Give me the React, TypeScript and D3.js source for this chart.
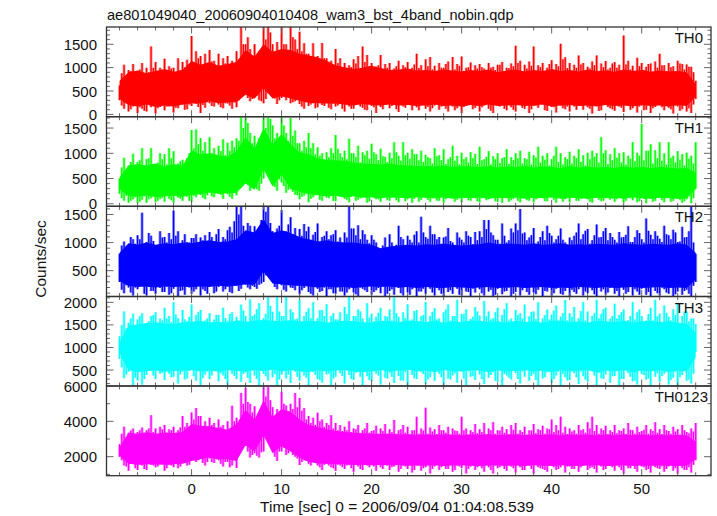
import React from "react";
import * as d3 from "d3";

const TITLE = "ae801049040_20060904010408_wam3_bst_4band_nobin.qdp";
const X_LABEL = "Time [sec] 0 = 2006/09/04 01:04:08.539";
const Y_LABEL = "Counts/sec";
const X_TICKS = [0, 10, 20, 30, 40, 50];
const PANEL_NAMES = ["TH0", "TH1", "TH2", "TH3", "TH0123"];
const PANEL_COLORS = ["#ff0000", "#00ff00", "#0000ff", "#00ffff", "#ff00ff"];
const Y_DOMAINS = [[-50, 1870], [-50, 1725], [40, 1646], [146, 2130], [925, 6000]];
const Y_LABELS = [[0, 500, 1000, 1500], [0, 500, 1000, 1500], [500, 1000, 1500], [500, 1000, 1500, 2000], [2000, 4000, 6000]];
const Y_MINOR = [100, 100, 100, 100, 1000];
const Y_MAJOR = [500, 500, 500, 500, 2000];

// spikes sampled every 0.5 s from -8 to 56
const TH0_HI = [620,1060,950,1080,900,1100,1000,1450,1120,1000, 1190,1030,1000,1200,1120,1170,1680,1350,1250,1300, 1380,1150,1300,1200,1250,1150,1350,1900,1500,1400, 1500,1350,1900,1900,1500,1550,1900,1500,1900,1600, 1770,1520,1300,1520,1250,1530,1200,1150,1400,1200, 1100,1050,1180,1250,1450,1270,1100,1020,1270,1080, 1100,980,1150,1050,1120,1000,1300,1050,1180,1230, 1040,1100,1000,1130,1230,1080,1240,1000,1110,1050, 1080,980,1100,1020,1060,1120,1000,1090,1470,1150, 1060,1130,1450,1050,1100,1000,1160,1080,1510,1220, 1100,1060,1260,1100,1020,1130,1260,1090,1140,1000, 1120,1060,1690,1150,1040,1210,1100,1020,1090,1130, 1300,1050,1100,1030,1150,1080,1070,1020,720];
const TH0_LO = [300,120,60,170,30,120,60,150,20,160, 90,170,40,130,210,110,180,220,30,140, 240,170,210,130,230,120,150,380,430,280, 360,300,240,450,500,220,350,300,240,280, 220,120,180,240,150,200,260,110,170,230, 60,170,120,230,140,90,180,30,160,220, 130,200,50,170,230,90,150,210,120,60, 190,100,220,60,170,130,30,180,240,140, 60,190,120,30,180,210,90,150,60,200, 120,30,180,140,210,70,160,40,190,110, 60,170,210,100,150,20,180,90,210,130, 80,170,50,200,130,40,190,100,30,160, 210,90,140,20,170,110,60,30,330];
const TH1_HI = [500,910,760,990,830,1100,880,1100,780,1000, 980,1100,1040,800,870,900,1460,1470,1300,1220, 1320,1100,1150,1280,1210,1250,1300,1750,1750,1400, 1350,1300,1750,1750,1550,1400,1750,1400,1700,1450, 1200,1250,1400,1200,1120,1000,1020,1100,1360,1000, 1050,1290,1000,1150,1020,1050,1190,980,1090,930, 1010,1220,950,1220,1010,1080,980,1050,970,900, 1100,960,1080,880,1150,950,1010,920,1020,990, 1130,880,1040,940,1000,900,1080,920,1000,1050, 900,1030,960,1130,950,1000,880,1130,1000,920, 1030,950,1080,960,1010,1050,1000,1320,1060,980, 1100,1000,1020,950,1220,1010,1580,1050,1180,1060, 1220,1000,1220,950,1040,980,1010,950,1220];
const TH1_LO = [200,60,20,90,10,80,20,110,30,90, 40,100,20,120,60,140,40,130,180,90, 220,130,200,100,190,100,170,380,420,260, 330,260,500,620,500,260,420,220,290,180, 90,160,30,130,190,60,120,170,50,140, 100,30,160,80,140,20,170,90,40,150, 60,130,30,170,90,20,150,80,120,40, 150,60,20,120,170,80,30,140,60,110, 30,130,90,160,40,20,150,70,120,30, 140,60,30,110,170,50,120,20,150,90, 30,140,60,170,90,20,130,50,160,80, 40,120,20,150,70,30,130,10,100,60, 130,30,150,60,100,20,90,10,300];
const TH2_HI = [800,1020,900,1060,1130,1530,1010,1120,950,1200, 1100,1170,1570,1200,1040,1010,1080,1150,1090,1130, 1190,1030,1240,1100,1220,1180,1640,1640,1150,1300, 1290,1150,1640,1640,1200,1250,1580,1200,1450,1260, 1240,1330,1280,1140,1340,1100,1200,1130,1220,1090, 1180,1640,1250,1310,1220,1050,1130,1000,860,1090, 1150,900,1300,1060,1120,1000,1200,1460,1100,1300, 1150,1100,1090,1260,1000,1180,1050,1200,1100,1190, 1200,1400,1400,1130,1050,1340,1000,1250,1340,1600, 1180,1090,1260,1020,1200,1300,1120,1060,1250,1000, 1090,1120,1340,1150,1240,1040,1320,1100,1260,1170, 1050,1190,1100,1290,1010,1220,1060,1430,1140,1200, 1070,1300,1130,1230,1010,1280,1100,1640,800];
const TH2_LO = [300,100,200,60,170,230,60,140,90,190, 120,70,180,50,150,210,90,170,60,140, 240,100,210,130,220,100,240,180,250,170, 210,250,300,660,360,170,240,130,200,150, 80,190,120,60,180,140,50,170,90,130, 60,170,110,40,180,120,70,150,100,50, 140,70,190,60,110,170,50,130,80,180, 60,150,40,120,90,180,60,130,50,110, 170,60,130,50,180,80,140,40,120,60, 190,70,110,160,50,130,60,180,90,140, 50,120,170,60,100,150,40,130,70,190, 90,50,160,120,60,130,180,70,50,140, 60,170,90,50,130,70,160,40,300];
const TH3_HI = [1250,1800,1550,1750,1620,1760,1520,1700,1780,1640, 1880,1700,2000,1650,1830,1580,1950,1720,1830,1600, 1760,1620,1720,1880,1590,1780,1680,1950,1700,2070, 1730,1980,1650,2130,1790,2130,1700,2130,1850,1620, 2050,1700,1870,2000,1650,1830,1960,1700,1620,1780, 1900,2130,1700,1850,1640,1980,1750,1680,1880,1700, 1840,2120,1680,1780,1960,1620,1830,1690,2010,1700, 1870,1640,1780,1950,1700,2060,1740,1850,1630,1900, 1710,2030,1800,1650,1880,1720,1980,1640,1830,1760, 1950,1690,1800,2000,1640,1840,1730,1930,1680,2050, 1760,1900,1650,2000,1800,1700,2060,1750,1880,1640, 1970,1720,1840,1610,2000,1780,1700,1600,1880,2060, 1750,1930,1680,1850,1990,1700,1800,1640,1520];
const TH3_LO = [750,320,460,170,270,180,390,480,300,420, 280,420,350,200,460,310,520,260,170,400, 300,480,250,380,160,420,300,240,450,210, 380,150,420,270,340,170,400,310,210,460, 260,380,170,450,300,220,400,160,350,430, 200,390,280,470,160,360,250,420,180,330, 440,210,370,270,160,390,300,450,190,340, 260,420,160,310,380,220,470,170,350,280, 400,190,330,450,240,150,380,290,430,200, 350,260,420,170,310,450,210,380,150,340, 280,430,190,360,240,470,170,320,400,220, 370,160,300,430,250,180,410,290,150,350, 240,420,180,330,150,390,260,200,900];
const TH4_HI = [2700,3700,3350,3600,3400,3650,3500,4350,3600,3700, 3800,3550,3700,3500,4300,3900,4500,4760,4300,4000, 4200,3900,4100,3800,4000,4880,4200,5600,5900,5000, 4850,4500,6100,6100,4800,4700,5680,4900,5000,5600, 5320,4760,4300,4200,4480,4100,3900,4350,3900,3800, 3700,4000,3600,3800,3500,3900,3450,3750,3600,3850, 3550,4080,3500,3800,3700,3500,4260,3600,4770,3650, 3550,3800,3500,3700,3600,3450,4260,3600,3500,3850, 3550,3900,3600,3950,3500,3700,3550,3800,3900,3500, 3700,3500,3850,3550,3750,3600,4100,3800,4260,3700, 3600,3500,3800,3550,3950,4260,3800,3600,3750,3500, 3800,3500,3600,3900,3500,3700,3450,3800,3550,3950, 3550,3800,3450,3700,3550,3800,3400,3600,3900];
const TH4_LO = [2000,1500,1200,1650,1250,1500,1250,1550,1400,1700, 1200,1550,1400,1350,1700,1500,1800,1700,2000,1500, 1900,1650,1800,1450,1700,1500,1360,2500,2600,1950, 2200,1950,2300,3060,2400,1750,2300,2100,2400,2000, 1530,1800,1600,1850,1500,1250,1600,1400,1200,1500, 1300,1550,1150,1450,1250,1500,1600,1200,1400,1550, 1250,1450,1150,1500,1300,1100,1500,1200,1400,1050, 1450,1250,1550,1300,1150,1500,1350,1050,1450,1250, 1500,1150,1400,1050,1350,1500,1200,1450,1100,1400, 1250,1500,1050,1400,1300,1150,1500,1250,1400,1100, 1450,1300,1150,1500,1250,1400,1100,1450,1300,1500, 1200,1400,1050,1350,1500,1150,1450,1250,1100,1400, 1300,1150,1450,1200,1050,1350,1250,1100,1800];

// in-between spikes, every 0.5 s from -7.75 to 55.75
const TH0_MID_HI = [880,800,930,870,960,820,900,1000,860,930, 850,980,900,950,1010,880,1120,1200,1050,980, 1130,1050,1000,1090,1040,1010,1180,1500,1650,1230, 1180,1250,1600,1750,1300,1280,1500,1350,1650,1400, 1350,1300,1250,1180,1160,1200,1050,1040,1100,1000, 980,1010,1090,950,1120,1030,900,1050,930,1000, 950,1030,880,1010,940,1070,990,900,1030,960, 920,1000,1080,890,960,1040,930,1010,870,980, 1010,900,1000,950,1060,880,990,1030,1100,910, 980,1040,920,1010,870,1080,950,1030,1180,990, 900,1000,1070,930,980,1050,890,1010,960,1090, 1000,920,1070,960,880,1030,950,1080,910,1000, 1050,930,1010,880,1090,960,1020,900];
const TH0_MID_LO = [190,240,110,220,150,80,200,250,130,210, 170,230,140,250,100,210,240,160,200,260, 180,270,150,240,190,260,300,420,350,330, 400,280,330,520,340,300,380,420,260,310, 170,260,210,130,250,180,140,230,190,120, 210,120,240,170,100,230,150,200,110,250, 180,110,240,140,200,250,90,220,160,130, 230,170,120,250,90,210,160,240,110,190, 150,240,80,210,170,120,250,100,220,140, 240,110,190,230,90,200,150,250,130,170, 220,100,180,240,120,210,70,230,160,110, 200,140,240,100,220,170,90,240,130,210, 150,230,110,190,80,240,130,210];
const TH1_MID_HI = [720,640,830,700,860,760,900,680,820,880, 780,900,710,840,750,1000,1100,1180,1050,950, 1000,920,1040,960,1050,1120,1250,1500,1600,1200, 1150,1080,1500,1680,1300,1150,1550,1250,1350,1200, 1050,1120,1100,980,950,880,920,1000,1090,920, 880,1000,930,820,960,890,1020,860,940,830, 900,1020,850,960,890,980,860,830,920,800, 940,860,790,920,850,780,880,820,900,790, 860,930,780,880,810,920,790,860,900,800, 880,780,910,820,870,760,950,830,780,880, 800,900,830,760,880,930,820,1000,790,860, 910,820,780,890,840,950,860,1050,800,900, 850,780,910,820,870,760,890,800];
const TH1_MID_LO = [110,160,60,130,40,150,90,170,60,120, 150,70,170,100,190,60,160,200,120,170, 150,210,180,230,140,220,300,450,380,350, 290,400,650,560,330,480,350,280,240,170, 140,200,100,170,80,150,110,60,170,130, 80,140,60,110,170,50,120,90,160,70, 120,70,150,50,130,100,40,160,80,110, 60,130,90,150,40,110,160,70,120,50, 110,70,140,50,120,160,40,100,60,130, 70,150,90,120,50,140,80,160,40,110, 130,60,100,150,40,120,80,60,140,100, 90,150,60,110,140,50,100,160,40,120, 70,120,40,140,80,50,150,110];
const TH2_MID_HI = [950,870,1100,980,1060,900,1170,1030,880,1090, 1000,1060,1120,950,1150,1000,1080,920,1040,980, 1100,1150,1000,1060,1280,1380,1500,1300,1350,1180, 1100,1400,1550,1350,1100,1300,1200,1320,1150,1080, 1120,1200,1050,1190,1000,1120,1060,1150,1020,1000, 1090,1250,1130,1060,1150,990,1050,900,950,880, 1000,960,1100,920,1050,1140,1000,1180,1070,1150, 1060,980,1110,1030,940,1090,1000,1120,970,1040, 1100,1240,1180,1050,980,1120,1040,1180,1220,1160, 1040,1130,950,1100,1040,1170,1000,1120,1050,960, 1040,1180,1060,1210,980,1130,1090,1200,1040,1100, 1000,1090,1140,1010,1100,1170,1000,1210,1060,1120, 1010,1150,1060,1180,1020,1090,1200,1000];
const TH2_MID_LO = [160,240,110,200,260,90,210,140,240,120, 220,100,250,140,70,200,130,240,170,90, 230,130,260,170,120,230,140,260,200,230, 180,270,420,420,210,280,160,240,190,230, 150,230,90,250,120,200,170,100,240,130, 110,240,80,200,150,260,120,190,230,90, 170,250,100,210,70,230,130,180,240,110, 190,90,240,150,210,70,230,120,180,250, 100,220,160,70,240,130,200,90,230,150, 120,240,80,210,140,250,100,190,70,220, 160,90,240,130,210,80,230,170,110,250, 140,210,90,240,170,70,220,120,250,100, 200,110,240,80,210,140,90,230];
const TH3_MID_HI = [1500,1420,1640,1500,1690,1450,1580,1720,1500,1600, 1640,1560,1730,1490,1620,1680,1520,1780,1480,1640, 1560,1720,1500,1650,1740,1480,1600,1820,1530,1700, 1850,1600,1750,1920,1580,1800,1700,1560,1780,1640, 1570,1790,1650,1500,1830,1700,1540,1760,1620,1500, 1740,1580,1690,1800,1500,1660,1580,1770,1520,1680, 1600,1760,1540,1650,1480,1810,1580,1720,1500,1790, 1620,1520,1840,1590,1700,1490,1750,1560,1680,1800, 1520,1700,1620,1780,1540,1850,1600,1490,1720,1640, 1560,1790,1630,1500,1720,1620,1820,1550,1760,1600, 1680,1500,1810,1600,1530,1760,1650,1850,1570,1700, 1640,1780,1520,1700,1620,1840,1500,1740,1600,1690, 1530,1770,1600,1720,1490,1800,1580,1640];
const TH3_MID_LO = [560,400,530,330,470,300,510,380,560,440, 500,340,530,400,290,480,360,520,320,470, 380,540,430,300,500,370,540,410,330,490, 300,480,360,520,410,290,490,400,540,350, 460,330,510,390,280,500,420,310,530,370, 510,300,440,350,520,280,470,380,540,310, 350,500,270,450,530,320,480,410,290,520, 490,340,530,290,430,510,310,470,360,540, 300,520,390,260,480,410,330,540,300,470, 510,370,280,490,340,540,300,460,410,270, 520,340,470,290,530,380,440,300,510,360, 480,300,540,350,270,500,390,310,520,430, 370,500,280,460,340,530,290,420];
const TH4_MID_HI = [3300,3100,3480,3250,3500,3300,3600,3400,3250,3550, 3300,3500,3200,3650,3700,3550,4100,4300,3700,3600, 3800,3500,3700,3400,3600,4000,3900,5000,5100,4500, 4300,4400,5400,5200,4300,4500,5000,4300,4700,4800, 4600,4100,3900,3800,4000,3700,3800,3600,3500,3450, 3500,3400,3550,3300,3600,3350,3500,3300,3450,3300, 3400,3300,3550,3350,3250,3500,3300,3480,3300,3420, 3280,3500,3350,3250,3480,3300,3500,3250,3400,3320, 3400,3250,3500,3300,3480,3350,3250,3520,3300,3400, 3250,3480,3320,3500,3300,3550,3400,3500,3350,3280, 3420,3300,3500,3350,3600,3450,3300,3500,3280,3400, 3330,3450,3280,3520,3300,3400,3520,3300,3450,3350, 3280,3500,3300,3420,3250,3500,3330,3420];
const TH4_MID_LO = [1800,1450,1600,1350,1550,1300,1650,1500,1450,1600, 1350,1500,1600,1450,1650,1550,1900,1800,1650,1700, 1700,1850,1600,1700,1400,1800,2200,2700,2300,2100, 2050,2250,3000,2700,2000,2300,2500,2200,2100,1900, 1700,1750,1500,1650,1400,1550,1500,1350,1550,1400, 1500,1350,1600,1300,1550,1400,1450,1550,1300,1500, 1400,1550,1300,1450,1600,1250,1500,1350,1550,1300, 1550,1400,1300,1600,1250,1450,1550,1300,1600,1400, 1350,1550,1250,1500,1400,1300,1600,1350,1550,1250, 1500,1300,1600,1350,1250,1550,1400,1300,1600,1450, 1300,1550,1400,1600,1350,1300,1600,1250,1500,1400, 1550,1250,1500,1350,1300,1600,1400,1300,1550,1350, 1450,1300,1600,1350,1500,1250,1400,1550];

// dense band sampled every 1 s from -8 to 56
const TH0_BAND_HI = [720,900,940,880,930,970,910,950, 1140,1060,1120,1040,1080,1120,1380,1240,1500,1340, 1400,1380,1300,1260,1220,1150, 1050,1010,970,1000,1040,990,950,960,980,940, 950,930,960,940,920,950,930,960,900,940, 960,920,950,930,970,930,950,920,960,930, 940,910,960,930,950,910,940,920,930,900,650];
const TH0_BAND_LO = [330,200,170,210,160,190,170,210, 240,230,280,240,260,260,420,340,560,340, 390,340,290,250,240,230, 230,210,190,220,200,190,210,190,200,180, 190,210,180,190,170,200,180,210,180,190, 200,180,190,210,170,190,200,180,190,170, 200,180,190,170,200,180,190,170,200,180,380];
const TH1_BAND_HI = [520,760,790,760,800,740,790,760, 1050,980,1000,960,930,1040,1320,1100,1500,1180, 1380,1180,1020,980,900,860, 860,850,820,800,790,780,800,770,760,750, 750,740,760,730,750,740,730,750,720,740, 730,750,720,740,730,710,750,720,740,720, 730,710,740,720,730,710,730,720,700,710,620];
const TH1_BAND_LO = [290,160,140,170,130,150,160,140, 180,190,230,200,210,220,400,280,680,340, 580,300,240,200,170,150, 160,130,150,120,130,110,130,120,110,130, 120,110,130,100,120,110,130,100,120,110, 130,100,120,110,130,100,120,110,100,120, 110,120,100,130,110,100,120,110,100,110,290];
const TH2_BAND_HI = [820,990,960,1000,960,990,970,1000, 990,1020,1040,1010,1020,1060,1220,1180,1420,1170, 1220,1170,1100,1060,1020,1040, 1010,1000,1000,980,960,900,930,950,960,950, 970,960,980,960,950,960,970,1000,970,980, 980,960,990,960,970,990,960,970,960,980, 970,960,990,970,960,980,970,960,990,960,820];
const TH2_BAND_LO = [310,230,210,220,200,220,210,220, 210,220,210,230,220,230,260,250,480,270, 260,240,230,220,200,220, 200,210,190,210,220,210,220,200,210,190, 210,200,190,210,200,190,200,210,190,200, 210,190,200,210,190,200,190,210,200,190, 210,190,200,210,190,200,210,190,200,190,340];
const TH3_BAND_HI = [1120,1480,1510,1540,1560,1530,1520,1560, 1570,1590,1550,1570,1550,1600,1570,1590,1610,1590, 1580,1610,1570,1590,1580,1550, 1570,1590,1580,1560,1550,1590,1580,1560,1600,1580, 1560,1590,1550,1580,1560,1600,1590,1560,1580,1550, 1590,1560,1580,1550,1590,1600,1560,1580,1550,1590, 1580,1560,1600,1550,1580,1590,1560,1580,1550,1530,1320];
const TH3_BAND_LO = [880,500,450,480,490,460,480,490, 500,470,490,460,500,480,470,500,480,510, 470,500,480,450,500,470, 490,500,470,450,480,500,470,490,510,470, 490,450,500,480,470,500,490,450,500,470, 480,500,470,490,450,500,470,490,500,450, 490,470,500,450,490,470,500,450,490,470,780];
const TH4_BAND_HI = [2550,3350,3300,3380,3300,3370,3340,3400, 3850,3750,3720,3620,3520,3850,4650,4100,5200,4250, 4700,4550,4100,3800,3680,3550, 3450,3400,3350,3320,3300,3280,3300,3250,3270,3240, 3260,3230,3270,3240,3220,3260,3240,3270,3210,3250, 3270,3210,3260,3230,3270,3210,3250,3230,3260,3220, 3250,3210,3260,3220,3250,3210,3240,3220,3230,3210,2850];
const TH4_BAND_LO = [2050,1600,1550,1570,1560,1540,1570,1600, 1750,1850,1950,1850,1850,1750,2650,2300,3200,2200, 2600,2300,1950,1720,1620,1600, 1580,1570,1530,1540,1520,1530,1510,1530,1490,1500, 1490,1510,1480,1500,1520,1490,1480,1500,1510,1480, 1500,1480,1510,1490,1480,1510,1490,1480,1500,1510, 1480,1490,1510,1480,1500,1480,1510,1490,1480,1490,1850];

const SPIKES_HI = [TH0_HI, TH1_HI, TH2_HI, TH3_HI, TH4_HI];
const SPIKES_LO = [TH0_LO, TH1_LO, TH2_LO, TH3_LO, TH4_LO];
const MIDS_HI = [TH0_MID_HI, TH1_MID_HI, TH2_MID_HI, TH3_MID_HI, TH4_MID_HI];
const MIDS_LO = [TH0_MID_LO, TH1_MID_LO, TH2_MID_LO, TH3_MID_LO, TH4_MID_LO];
const BANDS_HI = [TH0_BAND_HI, TH1_BAND_HI, TH2_BAND_HI, TH3_BAND_HI, TH4_BAND_HI];
const BANDS_LO = [TH0_BAND_LO, TH1_BAND_LO, TH2_BAND_LO, TH3_BAND_LO, TH4_BAND_LO];

const W = 717, H = 516;
const LEFT = 106.5, RIGHT = 711;
const PANEL_EDGES = [27, 116.7, 206.3, 296.5, 386, 475.7];
const FONT = "'Liberation Sans', Arial, sans-serif";
const AXIS = "#333";
const TICK = "#666";

const x = d3.scaleLinear().domain([-9.45, 57.7]).range([LEFT, RIGHT]);

function range(a: number, b: number, s: number) {
  return d3.range(Math.ceil(a / s) * s, b + 1e-6, s);
}

function Panel({ i }: { i: number }) {
  const top = PANEL_EDGES[i], bottom = PANEL_EDGES[i + 1];
  const y = d3.scaleLinear().domain(Y_DOMAINS[i]).range([bottom, top]);
  const color = PANEL_COLORS[i];
  const rules = (hi: number[], lo: number[], t0: number) => hi.map((h, k) => {
    const px = x(t0 + k * 0.5);
    return `M${px},${y(lo[k])}L${px},${y(h)}`;
  }).join("");
  const spikes = rules(SPIKES_HI[i], SPIKES_LO[i], -8) + rules(MIDS_HI[i], MIDS_LO[i], -7.75);
  const band = d3.area<number>()
    .x((_, k) => x(-8 + k))
    .y0((_, k) => y(BANDS_LO[i][k]))
    .y1((d) => y(d))(BANDS_HI[i]) || "";
  const [d0, d1] = Y_DOMAINS[i];
  const minors = range(d0, d1, Y_MINOR[i]);
  const majors = range(d0, d1, Y_MAJOR[i]);
  const xMinor = range(-8, 57, 2);
  const tickPaths: string[] = [];
  for (const v of minors) {
    const py = y(v), m = majors.includes(v) ? 7 : 3.5;
    tickPaths.push(`M${LEFT},${py}h${m}M${RIGHT},${py}h${-m}`);
  }
  for (const t of xMinor) {
    const px = x(t), m = t % 10 === 0 ? 6.5 : 3.5;
    tickPaths.push(`M${px},${top}v${m}M${px},${bottom}v${-m}`);
  }
  return (
    <g>
      <clipPath id={`clip${i}`}>
        <rect x={LEFT} y={top} width={RIGHT - LEFT} height={bottom - top} />
      </clipPath>
      <g clipPath={`url(#clip${i})`}>
        <path d={spikes} stroke={color} strokeWidth={3} strokeOpacity={0.4} fill="none" />
        <path d={spikes} stroke={color} strokeWidth={1.3} fill="none" />
        <path d={band} fill={color} />
      </g>
      <path d={tickPaths.join("")} stroke={TICK} strokeWidth={1} fill="none" />
      <rect x={LEFT} y={top} width={RIGHT - LEFT} height={bottom - top} fill="none" stroke={AXIS} strokeWidth={1.3} />
      {Y_LABELS[i].map((v) => (
        <text key={v} x={97} y={y(v) + 5.5} textAnchor="end" fontFamily={FONT} fontSize={15} fill="#111">{v}</text>
      ))}
      <text x={i === 4 ? 708 : 703} y={top + 16} textAnchor="end" fontFamily={FONT} fontSize={15} fill="#111">{PANEL_NAMES[i]}</text>
    </g>
  );
}

export default function App() {
  return (
    <svg width={W} height={H} style={{ position: "absolute", left: 0, top: 0, background: "#fff" }}>
      <text x={107} y={20} fontFamily={FONT} fontSize={14.6} fill="#111">{TITLE}</text>
      {PANEL_NAMES.map((_, i) => <Panel key={i} i={i} />)}
      {X_TICKS.map((t) => (
        <text key={t} x={x(t)} y={494} textAnchor="middle" fontFamily={FONT} fontSize={15} fill="#111">{t}</text>
      ))}
      <text x={397} y={512} textAnchor="middle" fontFamily={FONT} fontSize={15.5} fill="#111">{X_LABEL}</text>
      <text transform="translate(46,259) rotate(-90)" textAnchor="middle" fontFamily={FONT} fontSize={15.5} fill="#111">{Y_LABEL}</text>
    </svg>
  );
}
